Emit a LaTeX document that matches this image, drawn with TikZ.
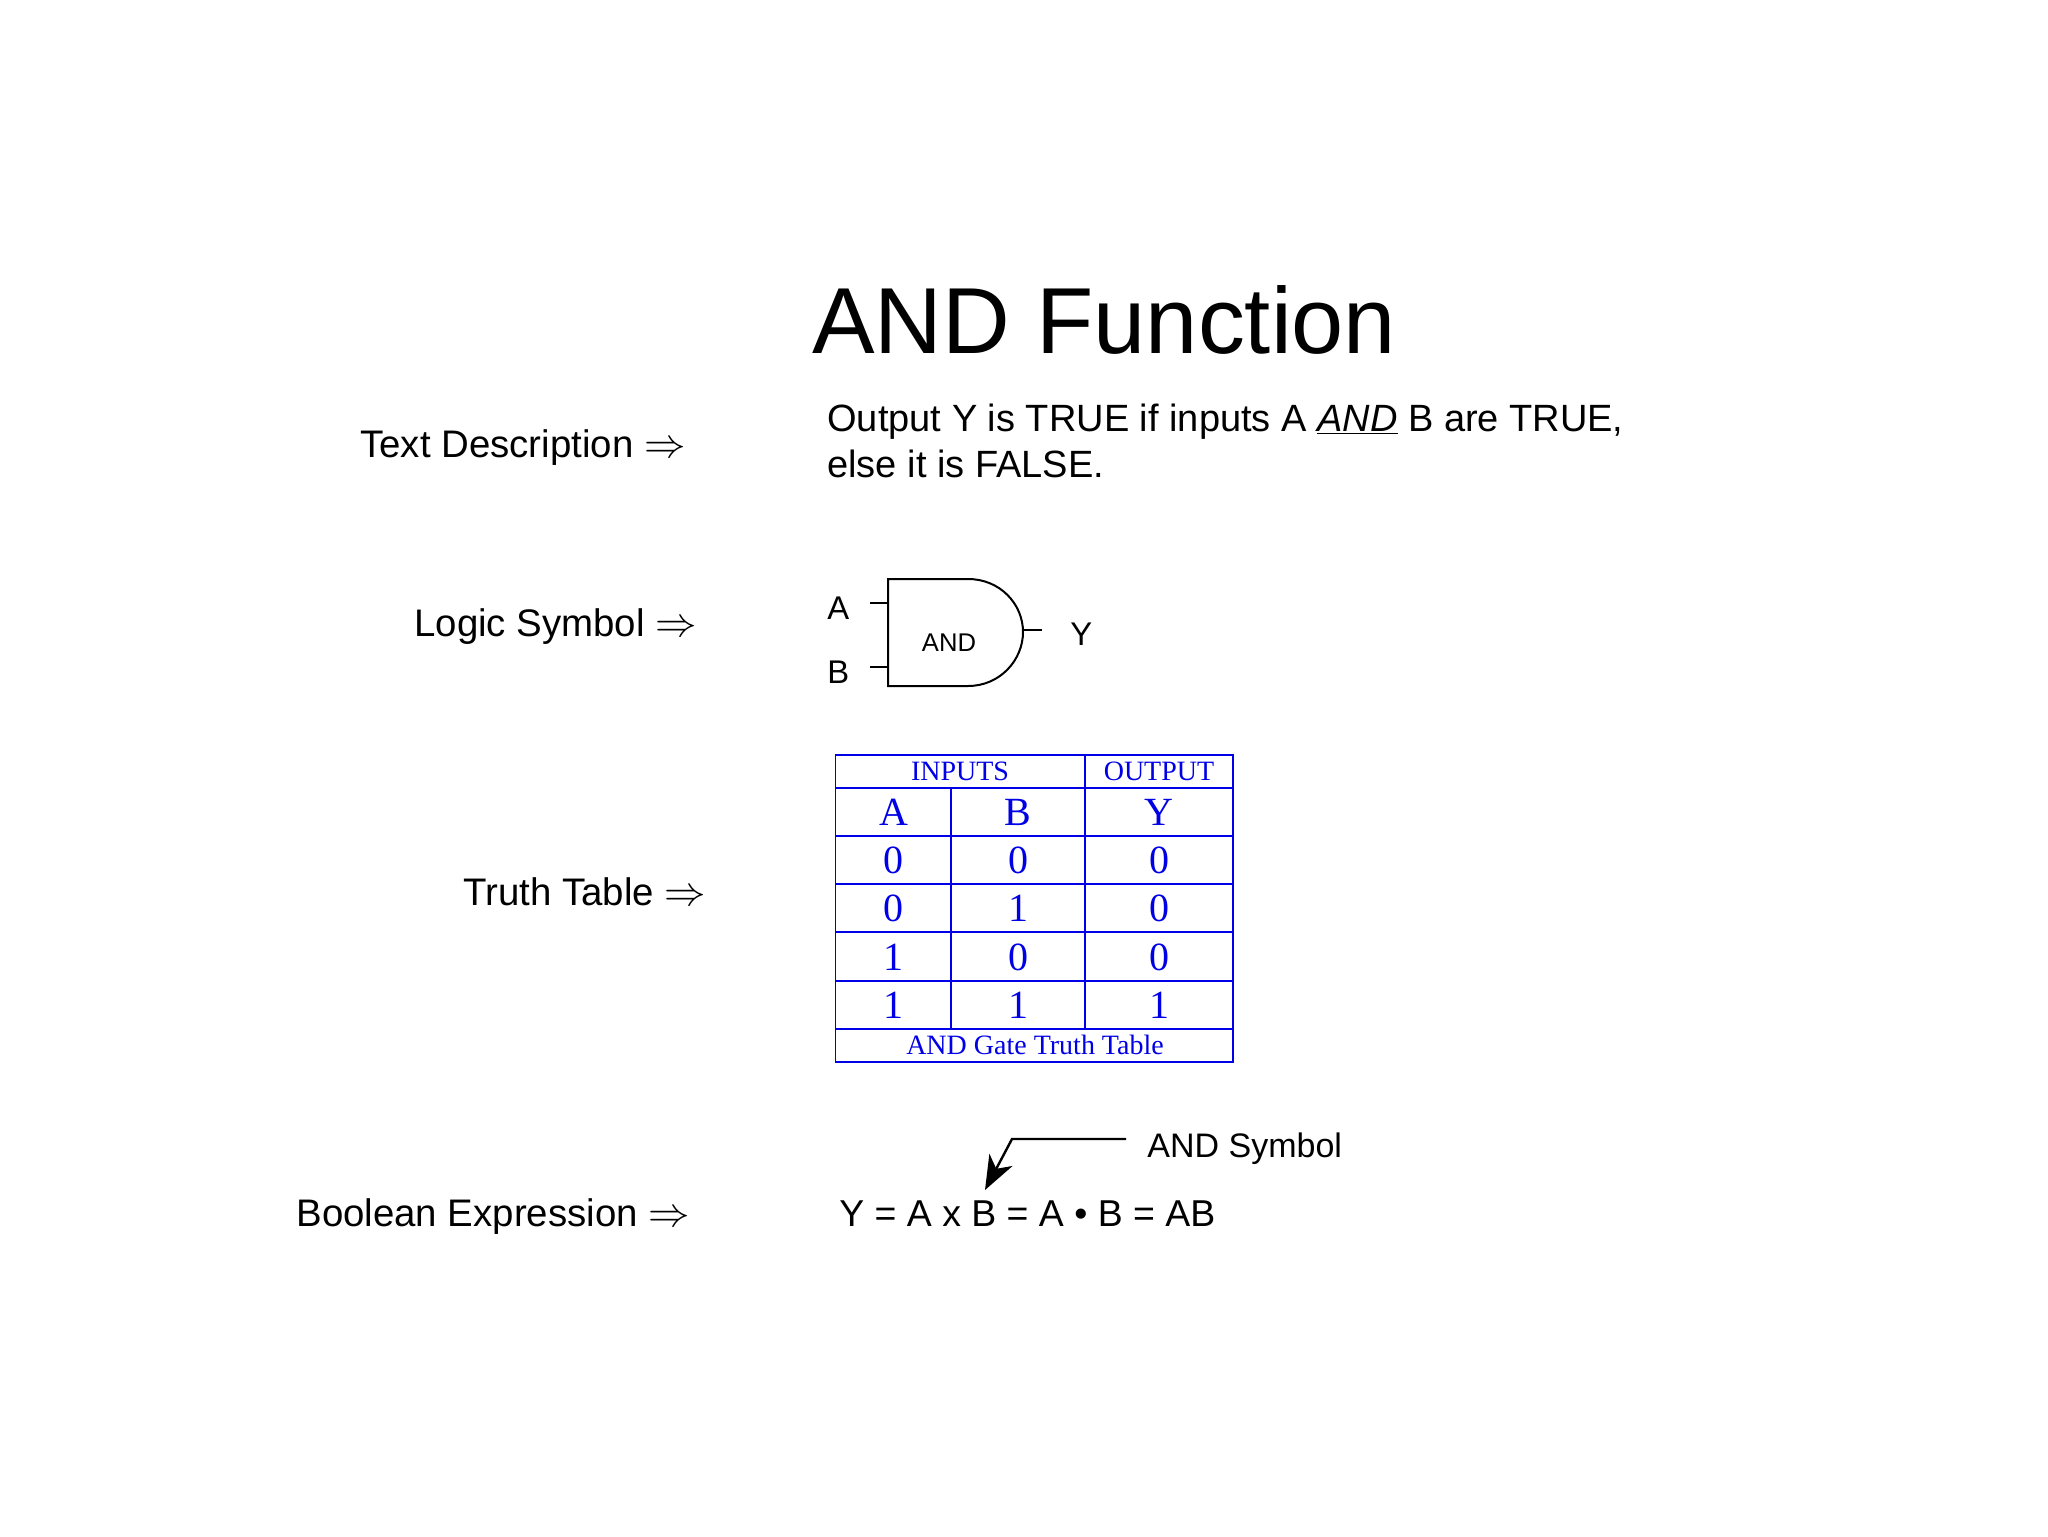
\documentclass[tikz,border=0pt]{standalone}
\usepackage{fontspec}
\setmainfont{Liberation Sans}
\newfontfamily\tablefont{Liberation Serif}
\definecolor{tableblue}{RGB}{0, 0, 230}
\newcommand{\labarrow}{{\fontsize{22}{22}\selectfont$\Rightarrow$}}
\usetikzlibrary{arrows.meta,positioning}
\tikzset{
  heading/.style={anchor=base west,inner sep=0pt,font=\fontsize{46.9}{47}\selectfont},
  bodytext/.style={anchor=base west,inner sep=0pt,font=\fontsize{19}{19}\selectfont},
  labeltext/.style={anchor=base west,inner sep=0pt,font=\fontsize{19.2}{19}\selectfont},
  exprtext/.style={anchor=base west,inner sep=0pt,font=\fontsize{18.7}{19}\selectfont},
  smalltext/.style={anchor=base west,inner sep=0pt,font=\fontsize{16.4}{16}\selectfont},
  gateline/.style={line width=1pt,black},
  tableline/.style={line width=0.6pt,tableblue},
  tablesmall/.style={anchor=base,inner sep=0pt,tableblue,font=\tablefont\fontsize{14}{14}\selectfont},
  tablebig/.style={anchor=base,inner sep=0pt,tableblue,font=\tablefont\fontsize{20}{20}\selectfont}
}
\begin{document}
\begin{tikzpicture}[x=0.5pt,y=-0.5pt]
        \useasboundingbox (0,0) rectangle (2048,1536);
        \node[heading] (title) at (812,353) {AND Function};
        % left column
        \node[labeltext] (textlabel) at (360,457) {Text Description \labarrow};
        \node[labeltext] (logiclabel) at (414,636) {Logic Symbol \labarrow};
        \node[labeltext] (truthlabel) at (463,905) {Truth Table \labarrow};
        \node[labeltext] (boollabel) at (296,1226) {Boolean Expression \labarrow};
        \node[bodytext] (descone) at (827,431) {Output Y is TRUE if inputs A \underline{\textit{AND}} B are TRUE,};
        \node[bodytext] (desctwo) at (827,477) {else it is FALSE.};
        % gate
        \draw[gateline] (968,579) -- (888,579) -- (888,686) -- (968,686)
          .. controls (1000,686) and (1023,660) .. (1023,632)
          .. controls (1023,604) and (1000,579) .. (968,579);
        \coordinate (ina) at (888,603);
        \coordinate (inb) at (888,667);
        \coordinate (outy) at (1024,630);
        \coordinate (ina end) at (870,603);
        \coordinate (inb end) at (870,667);
        \coordinate (outy end) at (1042,630);
        \draw[gateline] (ina end) -- (ina);
        \draw[gateline] (inb end) -- (inb);
        \draw[gateline] (outy) -- (outy end);
        \node[smalltext] (laba) at (827,619) {A};
        \node[smalltext] (labb) at (827,683) {B};
        \node[smalltext] (laby) at (1070,645) {Y};
        \node[anchor=base,inner sep=0pt,font=\fontsize{12.8}{13}\selectfont] (gatename) at (949,651) {AND};
        % truth table
        \draw[tableline] (835.5,755) rectangle (1233,1062);
        \foreach \yy in {788,836,884,932,981,1029}
          \draw[tableline] (836,\yy) -- (1233,\yy);
        \draw[tableline] (1085,755) -- (1085,1029);
        \draw[tableline] (951,788) -- (951,1029);
        \node[tablesmall] (inputs) at (960,780) {INPUTS};
        \node[tablesmall] (output) at (1159,780) {OUTPUT};
        \node[tablebig] (heada) at (894,825) {A};
        \node[tablebig] (headb) at (1018,825) {B};
        \node[tablebig] (heady) at (1159,825) {Y};
        \foreach \yy/\aa/\bb/\cc [count=\rr] in {873/0/0/0,921/0/1/0,970/1/0/0,1018/1/1/1} {
          \node[tablebig] (cella\rr) at (893,\yy) {\aa};
          \node[tablebig] (cellb\rr) at (1018,\yy) {\bb};
          \node[tablebig] (celly\rr) at (1159,\yy) {\cc};
        }
        \node[tablesmall] (caption) at (1035,1054) {AND Gate Truth Table};
        % expression
        \node[exprtext] (expr) at (839,1226) {Y = A x B = A • B = AB};
        \node[smalltext,font=\fontsize{17}{17}\selectfont] (symbol) at (1147,1157) {AND Symbol};
        \coordinate (bend) at (1012,1139);
        \coordinate (tail) at (1126,1139);
        \coordinate (tip) at (985,1190);
        \draw[line width=1.2pt,-{Stealth[length=17pt,width=13pt,inset=5pt]}] (tail) -- (bend) -- (tip);
      \end{tikzpicture}
\end{document}
